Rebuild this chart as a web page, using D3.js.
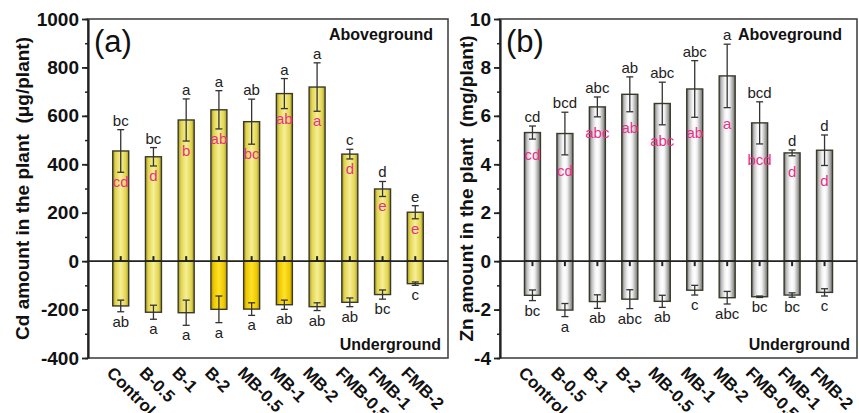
<!DOCTYPE html>
<html>
<head>
<meta charset="utf-8">
<script src='https://d3js.org/d3.v7.min.js'></script>
<style>
  html, body { margin: 0; padding: 0; background: #fff; }
  text { font-family: "Liberation Sans", Arial, sans-serif; }
</style>
</head>
<body>
<div id="vis"></div>
</body>
<script>
var categories = ['Control', 'B-0.5', 'B-1', 'B-2', 'MB-0.5', 'MB-1', 'MB-2', 'FMB-0.5', 'FMB-1', 'FMB-2'];

// (a) Cd, ug/plant
var cdAbove = [455, 431, 583, 625, 576, 692, 719, 442, 298, 202];
var cdAboveErr = [88, 38, 87, 79, 93, 62, 100, 20, 31, 27];
var cdBelow = [-185, -211, -213, -199, -198, -180, -188, -170, -138, -93];
var cdBelowErr = [24, 29, 52, 55, 26, 19, 16, 18, 19, 7];
var cdTopLetters = ['bc', 'bc', 'a', 'a', 'ab', 'a', 'a', 'c', 'd', 'e'];
var cdInLetters = ['cd', 'd', 'b', 'ab', 'bc', 'ab', 'a', 'd', 'e', 'e'];
var cdBelowLetters = ['ab', 'a', 'a', 'a', 'a', 'ab', 'ab', 'ab', 'bc', 'c'];
var cdDeepYellow = ['B-2', 'MB-0.5', 'MB-1'];

// (b) Zn, mg/plant
var znAbove = [5.31, 5.27, 6.37, 6.89, 6.51, 7.11, 7.65, 5.71, 4.47, 4.58];
var znAboveErr = [0.27, 0.88, 0.41, 0.72, 0.88, 1.17, 1.31, 0.87, 0.12, 0.63];
var znBelow = [-1.41, -2.02, -1.67, -1.57, -1.66, -1.20, -1.51, -1.47, -1.40, -1.29];
var znBelowErr = [0.22, 0.27, 0.28, 0.39, 0.25, 0.20, 0.26, 0.03, 0.09, 0.15];
var znTopLetters = ['cd', 'bcd', 'abc', 'ab', 'abc', 'abc', 'a', 'bcd', 'd', 'd'];
var znInLetters = ['cd', 'cd', 'abc', 'ab', 'abc', 'ab', 'a', 'bcd', 'd', 'd'];
var znBelowLetters = ['bc', 'a', 'ab', 'abc', 'ab', 'c', 'abc', 'bc', 'bc', 'c'];

var width = 859, height = 413;
var top_y = 19, bottom_y = 358;

var svg = d3.select('#vis')
    .append('svg')
    .attr('width', width)
    .attr('height', height);

var defs = svg.append('defs');
function addGrad(id, stops) {
    var g = defs.append('linearGradient')
        .attr('id', id)
        .attr('x1', '0%').attr('x2', '100%')
        .attr('y1', '0%').attr('y2', '0%');
    stops.forEach(function(s) {
        g.append('stop').attr('offset', s[0]).attr('stop-color', s[1]);
    });
}
addGrad('khaki', [['0%', '#a09228'], ['18%', '#e2d54e'], ['50%', '#f6ef98'], ['82%', '#e2d54e'], ['100%', '#a09228']]);
addGrad('gold', [['0%', '#b09400'], ['18%', '#eec800'], ['50%', '#ffe22a'], ['82%', '#eec800'], ['100%', '#b09400']]);
addGrad('grey', [['0%', '#6a6a6a'], ['15%', '#bdbdbd'], ['35%', '#f2f2f2'], ['50%', '#ffffff'], ['65%', '#eeeeee'], ['85%', '#a8a8a8'], ['100%', '#6a6a6a']]);

function drawPanel(p) {
    var g = svg.append('g');

    var x_scale = d3.scalePoint()
        .domain(categories)
        .range([p.left, p.right])
        .padding(1);

    var y_scale = d3.scaleLinear()
        .domain(p.domain)
        .range([bottom_y, top_y]);

    // frame
    g.append('rect')
        .attr('x', p.left).attr('y', top_y)
        .attr('width', p.right - p.left).attr('height', bottom_y - top_y)
        .attr('fill', 'none').attr('stroke', '#444').attr('stroke-width', 1.6);

    // minor ticks
    g.append('g')
        .attr('transform', 'translate(' + p.left + ',0)')
        .call(d3.axisLeft(y_scale).tickValues(d3.range(p.domain[0], p.domain[1] + p.minor / 2, p.minor)).tickSize(3).tickFormat(''))
        .call(function(a) { a.select('.domain').remove(); a.selectAll('line').attr('stroke', '#222').attr('stroke-width', 1.5); });

    // major ticks + labels
    var yaxis = g.append('g')
        .attr('transform', 'translate(' + p.left + ',0)')
        .call(d3.axisLeft(y_scale)
            .tickValues(d3.range(p.domain[0], p.domain[1] + p.major / 2, p.major))
            .tickFormat(function(d) { return String(d); })
            .tickSize(6).tickPadding(3).tickSizeOuter(0));
    yaxis.select('.domain').attr('stroke', '#222').attr('stroke-width', 2.2);
    yaxis.selectAll('line').attr('stroke', '#222').attr('stroke-width', 1.8);
    yaxis.selectAll('text')
        .attr('font-family', '"Liberation Sans", Arial, sans-serif')
        .attr('font-size', 19).attr('font-weight', 'bold').attr('fill', '#111');

    // y title
    g.append('text')
        .attr('transform', 'translate(' + p.titleX + ',' + ((top_y + bottom_y) / 2) + ') rotate(-90)')
        .attr('text-anchor', 'middle')
        .attr('dy', '0.35em')
        .style('white-space', 'pre')
        .attr('font-size', 19).attr('font-weight', 'bold').attr('fill', '#111')
        .text(p.title);

    var rows = categories.map(function(c, i) {
        return {
            name: c, up: p.up[i], upErr: p.upErr[i], down: p.down[i], downErr: p.downErr[i],
            t1: p.topL[i], t2: p.inL[i], t3: p.downL[i]
        };
    });

    var bw = 16;
    // bars above
    g.selectAll('.barUp').data(rows).enter().append('rect')
        .attr('class', 'barUp')
        .attr('x', function(d) { return x_scale(d.name) - bw / 2; })
        .attr('y', function(d) { return y_scale(d.up); })
        .attr('width', bw)
        .attr('height', function(d) { return y_scale(0) - y_scale(d.up); })
        .attr('fill', 'url(#' + p.fill + ')')
        .attr('stroke', '#3a3a2a').attr('stroke-width', 1.4);
    // bars below
    g.selectAll('.barDown').data(rows).enter().append('rect')
        .attr('class', 'barDown')
        .attr('x', function(d) { return x_scale(d.name) - bw / 2; })
        .attr('y', y_scale(0))
        .attr('width', bw)
        .attr('height', function(d) { return y_scale(d.down) - y_scale(0); })
        .attr('fill', function(d) { return 'url(#' + (p.deep.indexOf(d.name) >= 0 ? 'gold' : p.fill) + ')'; })
        .attr('stroke', '#3a3a2a').attr('stroke-width', 1.4);

    // error bars
    function errBars(cls, val, err) {
        var e = g.selectAll('.' + cls).data(rows).enter().append('g').attr('class', cls)
            .attr('stroke', '#333').attr('stroke-width', 1.3);
        e.append('line')
            .attr('x1', function(d) { return x_scale(d.name); })
            .attr('x2', function(d) { return x_scale(d.name); })
            .attr('y1', function(d) { return y_scale(d[val] - d[err]); })
            .attr('y2', function(d) { return y_scale(d[val] + d[err]); });
        [-1, 1].forEach(function(s) {
            e.append('line')
                .attr('x1', function(d) { return x_scale(d.name) - 3.5; })
                .attr('x2', function(d) { return x_scale(d.name) + 3.5; })
                .attr('y1', function(d) { return y_scale(d[val] + s * d[err]); })
                .attr('y2', function(d) { return y_scale(d[val] + s * d[err]); });
        });
    }
    errBars('errUp', 'up', 'upErr');
    errBars('errDown', 'down', 'downErr');

    // zero line
    g.append('line')
        .attr('x1', p.left).attr('x2', p.right)
        .attr('y1', y_scale(0)).attr('y2', y_scale(0))
        .attr('stroke', '#222').attr('stroke-width', 1.6);

    // small marks at zero
    g.selectAll('.zmark').data(rows).enter().append('line')
        .attr('class', 'zmark')
        .attr('x1', function(d) { return x_scale(d.name); })
        .attr('x2', function(d) { return x_scale(d.name); })
        .attr('y1', y_scale(0))
        .attr('y2', y_scale(0) + p.markDir * 5)
        .attr('stroke', '#222').attr('stroke-width', 2);

    // letters
    g.selectAll('.lt').data(rows).enter().append('text')
        .attr('x', function(d) { return x_scale(d.name); })
        .attr('y', function(d) { return y_scale(d.up + d.upErr) - 4; })
        .attr('text-anchor', 'middle').attr('font-size', 15).attr('fill', '#222')
        .text(function(d) { return d.t1; });
    g.selectAll('.li').data(rows).enter().append('text')
        .attr('x', function(d) { return x_scale(d.name); })
        .attr('y', function(d) { return y_scale(d.up - d.upErr) + p.inOffset; })
        .attr('text-anchor', 'middle').attr('font-size', 15).attr('fill', '#e8308a')
        .text(function(d) { return d.t2; });
    g.selectAll('.lb').data(rows).enter().append('text')
        .attr('x', function(d) { return x_scale(d.name); })
        .attr('y', function(d) { return y_scale(d.down - d.downErr) + 15; })
        .attr('text-anchor', 'middle').attr('font-size', 15).attr('fill', '#222')
        .text(function(d) { return d.t3; });

    // panel tag
    g.append('text')
        .attr('x', p.left + 6).attr('y', 52)
        .attr('font-size', 31).attr('fill', '#111')
        .text(p.tag);

    g.append('text')
        .attr('x', p.right - 15).attr('y', 40)
        .attr('text-anchor', 'end')
        .attr('font-size', 16).attr('font-weight', 'bold').attr('fill', '#111')
        .text('Aboveground');
    g.append('text')
        .attr('x', p.right - 7).attr('y', 350)
        .attr('text-anchor', 'end')
        .attr('font-size', 16).attr('font-weight', 'bold').attr('fill', '#111')
        .text('Underground');

    // category labels
    g.selectAll('.xl').data(categories).enter().append('text')
        .attr('transform', function(c) { return 'translate(' + (x_scale(c) - 15) + ',374) rotate(45)'; })
        .attr('text-anchor', 'start')
        .attr('font-size', 17).attr('font-weight', 'bold').attr('fill', '#111')
        .text(function(c) { return c; });
}

drawPanel({
    left: 88, right: 448, domain: [-400, 1000], major: 200, minor: 100,
    title: 'Cd amount in the plant  (\u03bcg/plant)', titleX: 22, tag: '(a)',
    up: cdAbove, upErr: cdAboveErr, down: cdBelow, downErr: cdBelowErr,
    topL: cdTopLetters, inL: cdInLetters, downL: cdBelowLetters,
    fill: 'khaki', deep: cdDeepYellow, markDir: -1, inOffset: 15
});

drawPanel({
    left: 500, right: 857, domain: [-4, 10], major: 2, minor: 1,
    title: 'Zn amount in the plant  (mg/plant)', titleX: 466, tag: '(b)',
    up: znAbove, upErr: znAboveErr, down: znBelow, downErr: znBelowErr,
    topL: znTopLetters, inL: znInLetters, downL: znBelowLetters,
    fill: 'grey', deep: [], markDir: 1, inOffset: 21
});
</script>
</html>
